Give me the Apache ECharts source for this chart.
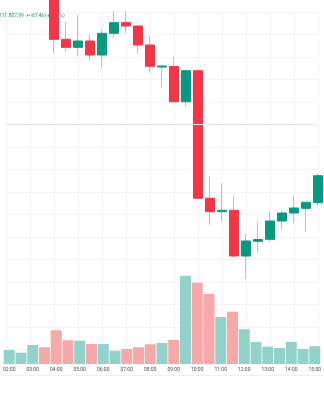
<!DOCTYPE html>
<html>
<head>
<meta charset="utf-8">
<script src="https://cdn.jsdelivr.net/npm/echarts@6/dist/echarts.min.js"></script>
<style>html,body{margin:0;padding:0;background:#fff}#c{width:324px;height:400px}</style>
</head>
<body>
<div id="c"></div>
<script>
var times = ['02:00','02:30','03:00','03:30','04:00','04:30','05:00','05:30','06:00','06:30','07:00','07:30','08:00','08:30','09:00','09:30','10:00','10:30','11:00','11:30','12:00','12:30','13:00','13:30','14:00','14:30','15:00'];
var opens  = [121900,122010,122090,122180,122020,121115,120972,121084,120836,121221,121410,121351,121013,120622,120631,120005,120556,118288,118050,118075,117262,117524,117559,117884,118027,118110,118210];
var closes = [122010,122090,122180,122020,121115,120972,121084,120836,121221,121410,121351,121013,120635,120640,120005,120556,118288,118050,118075,117262,117529,117556,117884,118027,118116,118217,118690];
var highs  = [122080,122140,122250,122230,122060,121428,121547,121204,121292,121618,121618,121351,121173,120640,120809,120556,120556,118684,118555,118329,117653,117872,118050,118068,118334,118217,118732];
var lows   = [121860,121950,122040,121990,120871,120894,120823,120729,120610,121143,121221,120853,120521,120272,120005,119916,118276,117813,117872,117239,116853,117321,117516,117724,117844,117694,118151];
var volumes = [140,113,190,167,337,237,233,200,200,133,150,167,197,210,240,883,813,700,470,523,347,220,173,160,220,150,177];
var refPrice = 119600;
var legendText = '118.807,99  +467,46 (+0,43%)';

var UP = '#089981', DOWN = '#F23645';
var UP_WICK = '#93d5cb', DOWN_WICK = '#f8a7ae';
var UP_VOL = '#92d2cb', DOWN_VOL = '#f7a8a8';

var wickData = times.map(function(t,i){ return [opens[i], closes[i], lows[i], highs[i]]; });
var bodyData = times.map(function(t,i){ return [opens[i], closes[i], Math.min(opens[i],closes[i]), Math.max(opens[i],closes[i])]; });
var volData = times.map(function(t,i){
  return { value: volumes[i], itemStyle: { color: closes[i] >= opens[i] ? UP_VOL : DOWN_VOL } };
});

var chart = echarts.init(document.getElementById('c'), null, {renderer:'canvas'});
chart.setOption({
  animation: false,
  backgroundColor: '#ffffff',
  grid: [
    { left: 6, right: 6, top: 12, height: 337.5 },
    { left: 6, right: 6, top: 264, height: 100 }
  ],
  xAxis: [
    { type: 'category', gridIndex: 0, data: times, boundaryGap: false,
      axisLine: {show:false}, axisTick: {show:false}, axisLabel: {show:false},
      splitLine: { show: true, interval: 1, lineStyle: { color: '#f2f3f5', width: 1 } } },
    { type: 'category', gridIndex: 1, data: times, boundaryGap: false,
      axisLine: {show:false}, axisTick: {show:false},
      axisLabel: { show: true, interval: 1, fontSize: 5, color: '#4a4d57', margin: 3, fontFamily: 'Roboto' },
      splitLine: { show: false } }
  ],
  yAxis: [
    { type: 'value', gridIndex: 0, min: 115600, max: 121600, interval: 400, scale: true,
      axisLine: {show:false}, axisTick: {show:false}, axisLabel: {show:false},
      splitLine: { show: true, lineStyle: { color: '#f2f3f5', width: 1 } } },
    { type: 'value', gridIndex: 1, min: 0, max: 1000,
      axisLine: {show:false}, axisTick: {show:false}, axisLabel: {show:false}, splitLine: {show:false} }
  ],
  series: [
    { type: 'bar', xAxisIndex: 1, yAxisIndex: 1, data: volData, barWidth: 11, clip: false, z: 2 },
    { type: 'candlestick', xAxisIndex: 0, yAxisIndex: 0, data: wickData, barWidth: 2, clip: false, z: 3,
      itemStyle: { color: UP_WICK, color0: DOWN_WICK, borderColor: UP_WICK, borderColor0: DOWN_WICK, borderWidth: 1 } },
    { type: 'candlestick', xAxisIndex: 0, yAxisIndex: 0, data: bodyData, barWidth: 9, clip: false, z: 4,
      itemStyle: { color: UP, color0: DOWN, borderColor: UP, borderColor0: DOWN, borderWidth: 1 },
      markLine: { silent: true, symbol: ['none','none'], label: {show:false},
        lineStyle: { color: '#dbe7e5', width: 1, type: 'solid' },
        data: [{ yAxis: refPrice }] } }
  ],
  graphic: [
    { type: 'line', z: 0, shape: { x1: 0, y1: 375.5, x2: 324, y2: 375.5 }, style: { stroke: '#f0f0f0', lineWidth: 1 }, silent: true },
    { type: 'text', z: 0, left: -1, top: 13, style: { text: legendText, fontSize: 5, fill: '#089981', fontFamily: 'Roboto' }, silent: true }
  ]
});
</script>
</body>
</html>
